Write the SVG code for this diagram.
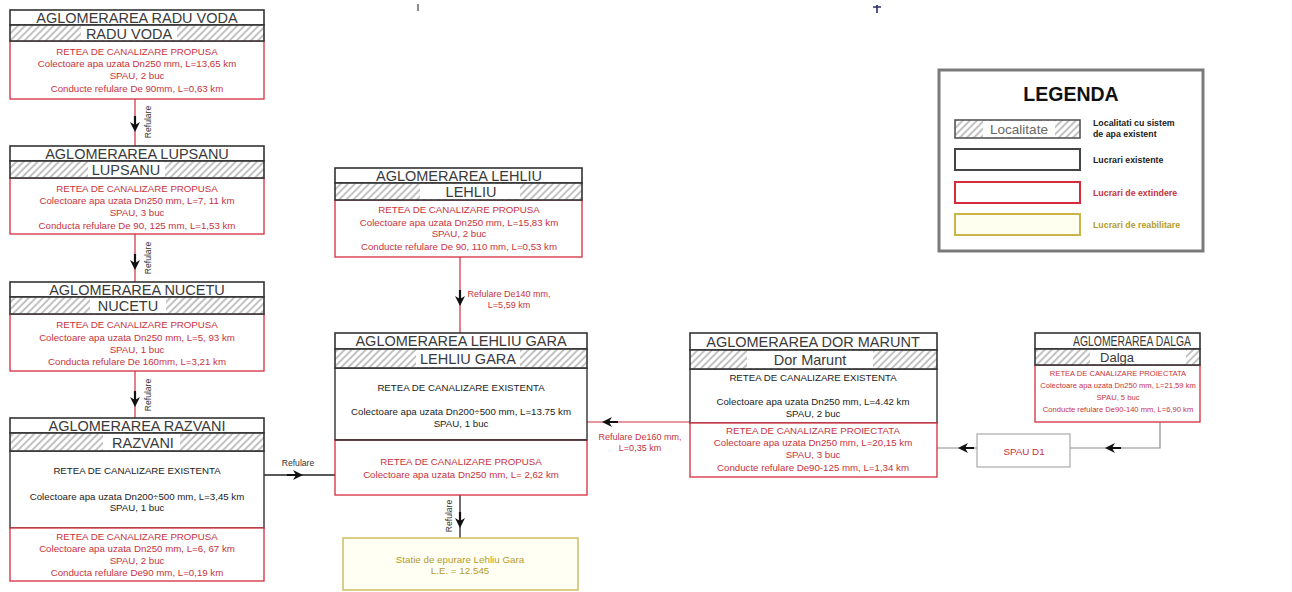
<svg xmlns="http://www.w3.org/2000/svg" width="1292" height="592" viewBox="0 0 1292 592">
  <defs>
    <pattern id="hatch" width="5" height="5" patternUnits="userSpaceOnUse" patternTransform="rotate(45)">
      <rect width="5" height="5" fill="#fff"/>
      <line x1="1" y1="0" x2="1" y2="5" stroke="#a8a8a8" stroke-width="1.4"/>
    </pattern>
    <!-- arrowhead with short shaft, pointing along +x, tip at origin -->
    <path id="ah" d="M0,0 L-10,-5 L-7,0 L-10,5 Z M-7,-1.1 L-16,-1.1 L-16,1.1 L-7,1.1 Z" fill="#111"/>
    <style>
      text { font-family: "Liberation Sans", Arial, sans-serif; text-anchor: middle; }
      .title { font-size: 14.5px; fill: #3a3a3a; }
      .body { font-size: 9.7px; }
      .small { font-size: 7.6px; }
      .red { fill: #c8323c; }
      .blk { fill: #222; }
      .gold { fill: #b49b2c; }
      .row { fill: #fff; stroke: #333; stroke-width: 1.6; }
      .hat { fill: url(#hatch); stroke: #333; stroke-width: 1.6; }
      .bg { fill: #fff; }
      .redbox { fill: #fff; stroke: #d42c3c; stroke-width: 1.3; }
      .exist { fill: #fff; stroke: #333; stroke-width: 1.4; }
      .ln-red { fill: none; stroke: #cc3040; stroke-width: 1.2; }
      .ln-blk { fill: none; stroke: #222; stroke-width: 1.3; }
      .ln-gry { fill: none; stroke: #8a8a8a; stroke-width: 1.2; }
      .lbl { font-size: 8.6px; fill: #333; }
      .lbl-red { font-size: 9px; fill: #c8323c; }
      .leg { font-size: 8.8px; font-weight: bold; text-anchor: start; }
    </style>
  </defs>

  <rect width="1292" height="592" fill="#fff"/>

  <!-- small survey ticks along the top edge -->
  <path d="M418,4 V11" stroke="#666" stroke-width="1.5"/>
  <path d="M873,7 H881 M877,5 V13" stroke="#2b2f6e" stroke-width="1.6"/>

  <!-- connectors -->
  <g id="connectors">
    <path class="ln-red" d="M135,99 V146"/>
    <path class="ln-red" d="M135,234 V282"/>
    <path class="ln-red" d="M135,371 V418"/>
    <path class="ln-blk" d="M264,475 H335"/>
    <path class="ln-red" d="M460,257 V333"/>
    <path class="ln-blk" d="M460,495 V538"/>
    <path class="ln-red" d="M587,422 H690"/>
    <path class="ln-gry" d="M1160,422 V448 H1070"/>
    <path class="ln-gry" d="M977,448 H937"/>

    <use href="#ah" transform="translate(135,132) rotate(90)"/>
    <use href="#ah" transform="translate(135,270) rotate(90)"/>
    <use href="#ah" transform="translate(135,407) rotate(90)"/>
    <use href="#ah" transform="translate(303,475)"/>
    <use href="#ah" transform="translate(460,306) rotate(90)"/>
    <use href="#ah" transform="translate(460,528) rotate(90)"/>
    <use href="#ah" transform="translate(602,422) rotate(180)"/>
    <use href="#ah" transform="translate(1105,448) rotate(180)"/>
    <use href="#ah" transform="translate(958,448) rotate(180)"/>

    <text class="lbl" transform="translate(151,122) rotate(-90)">Refulare</text>
    <text class="lbl" transform="translate(151,258) rotate(-90)">Refulare</text>
    <text class="lbl" transform="translate(151,395) rotate(-90)">Refulare</text>
    <text class="lbl" transform="translate(452,516) rotate(-90)">Refulare</text>
    <text class="lbl" x="298" y="466">Refulare</text>
    <text class="lbl-red" x="509" y="297">Refulare De140 mm,</text>
    <text class="lbl-red" x="509" y="308">L=5,59 km</text>
    <text class="lbl-red" x="640" y="440">Refulare De160 mm,</text>
    <text class="lbl-red" x="640" y="451">L=0,35 km</text>
  </g>

  <!-- Radu Voda -->
  <g id="node-radu-voda">
    <rect class="redbox" x="10" y="41" width="254" height="58"/>
    <rect class="row" x="10" y="10" width="254" height="15"/>
    <rect class="hat" x="10" y="25" width="254" height="16"/>
    <rect class="bg" x="81" y="26" width="96" height="14"/>
    <text class="title" x="137" y="22.5">AGLOMERAREA RADU VODA</text>
    <text class="title" x="129" y="38.5">RADU VODA</text>
    <text class="body red" x="137" y="55">RETEA DE CANALIZARE PROPUSA</text>
    <text class="body red" x="137" y="67">Colectoare apa uzata Dn250 mm, L=13,65 km</text>
    <text class="body red" x="137" y="79">SPAU, 2 buc</text>
    <text class="body red" x="137" y="91.5">Conducte refulare De 90mm, L=0,63 km</text>
  </g>

  <!-- Lupsanu -->
  <g id="node-lupsanu">
    <rect class="redbox" x="10" y="178" width="254" height="56"/>
    <rect class="row" x="10" y="146" width="254" height="15"/>
    <rect class="hat" x="10" y="161" width="254" height="17"/>
    <rect class="bg" x="88" y="162" width="77" height="15"/>
    <text class="title" x="137" y="158.5">AGLOMERAREA LUPSANU</text>
    <text class="title" x="126" y="175">LUPSANU</text>
    <text class="body red" x="137" y="191.5">RETEA DE CANALIZARE PROPUSA</text>
    <text class="body red" x="137" y="204">Colectoare apa uzata Dn250 mm, L=7, 11 km</text>
    <text class="body red" x="137" y="216">SPAU, 3 buc</text>
    <text class="body red" x="137" y="228.5">Conducta refulare De 90, 125 mm, L=1,53 km</text>
  </g>

  <!-- Nucetu -->
  <g id="node-nucetu">
    <rect class="redbox" x="10" y="314" width="254" height="57"/>
    <rect class="row" x="10" y="282" width="254" height="15"/>
    <rect class="hat" x="10" y="297" width="254" height="17"/>
    <rect class="bg" x="90" y="298" width="76" height="15"/>
    <text class="title" x="137" y="294.5">AGLOMERAREA NUCETU</text>
    <text class="title" x="128" y="311">NUCETU</text>
    <text class="body red" x="137" y="328">RETEA DE CANALIZARE PROPUSA</text>
    <text class="body red" x="137" y="340.5">Colectoare apa uzata Dn250 mm, L=5, 93 km</text>
    <text class="body red" x="137" y="352.5">SPAU, 1 buc</text>
    <text class="body red" x="137" y="365">Conducta refulare De 160mm, L=3,21 km</text>
  </g>

  <!-- Razvani -->
  <g id="node-razvani">
    <rect class="exist" x="10" y="451" width="254" height="77"/>
    <rect class="redbox" x="10" y="528" width="254" height="53"/>
    <rect class="row" x="10" y="418" width="254" height="15"/>
    <rect class="hat" x="10" y="433" width="254" height="18"/>
    <rect class="bg" x="103" y="434" width="77" height="16"/>
    <text class="title" x="137" y="430.5">AGLOMERAREA RAZVANI</text>
    <text class="title" x="143" y="447.5">RAZVANI</text>
    <text class="body blk" x="137" y="474">RETEA DE CANALIZARE EXISTENTA</text>
    <text class="body blk" x="137" y="500">Colectoare apa uzata Dn200÷500 mm, L=3,45 km</text>
    <text class="body blk" x="137" y="511">SPAU, 1 buc</text>
    <text class="body red" x="137" y="540">RETEA DE CANALIZARE PROPUSA</text>
    <text class="body red" x="137" y="552">Colectoare apa uzata Dn250 mm, L=6, 67 km</text>
    <text class="body red" x="137" y="564">SPAU, 2 buc</text>
    <text class="body red" x="137" y="576">Conducta refulare De90 mm, L=0,19 km</text>
  </g>

  <!-- Lehliu -->
  <g id="node-lehliu">
    <rect class="redbox" x="335" y="200" width="247" height="57"/>
    <rect class="row" x="335" y="168" width="247" height="15"/>
    <rect class="hat" x="335" y="183" width="247" height="17"/>
    <rect class="bg" x="420" y="184" width="100" height="15"/>
    <text class="title" x="459" y="180.5">AGLOMERAREA LEHLIU</text>
    <text class="title" x="471" y="197">LEHLIU</text>
    <text class="body red" x="459" y="213">RETEA DE CANALIZARE PROPUSA</text>
    <text class="body red" x="459" y="225.5">Colectoare apa uzata Dn250 mm, L=15,83 km</text>
    <text class="body red" x="459" y="237">SPAU, 2 buc</text>
    <text class="body red" x="459" y="249.5">Conducte refulare De 90, 110 mm, L=0,53 km</text>
  </g>

  <!-- Lehliu Gara -->
  <g id="node-lehliu-gara">
    <rect class="exist" x="335" y="368" width="252" height="72"/>
    <rect class="redbox" x="335" y="440" width="252" height="55"/>
    <line x1="335" y1="440" x2="587" y2="440" stroke="#333" stroke-width="1.4"/>
    <rect class="row" x="335" y="333" width="252" height="16"/>
    <rect class="hat" x="335" y="349" width="252" height="19"/>
    <rect class="bg" x="416" y="350" width="104" height="17"/>
    <text class="title" x="461" y="346">AGLOMERAREA LEHLIU GARA</text>
    <text class="title" x="468" y="363.5">LEHLIU GARA</text>
    <text class="body blk" x="461" y="390.5">RETEA DE CANALIZARE EXISTENTA</text>
    <text class="body blk" x="461" y="414.5">Colectoare apa uzata Dn200÷500 mm, L=13.75 km</text>
    <text class="body blk" x="461" y="427">SPAU, 1 buc</text>
    <text class="body red" x="461" y="465">RETEA DE CANALIZARE PROPUSA</text>
    <text class="body red" x="461" y="477.5">Colectoare apa uzata Dn250 mm, L= 2,62 km</text>
  </g>

  <!-- Statie de epurare -->
  <g id="node-statie">
    <rect x="343" y="538" width="235" height="52" fill="#fffff4" stroke="#c9b44a" stroke-width="1.3"/>
    <text class="gold" x="460" y="563" style="font-size:9.8px">Statie de epurare Lehliu Gara</text>
    <text class="gold" x="460" y="574" style="font-size:9.8px">L.E. = 12.545</text>
  </g>

  <!-- Dor Marunt -->
  <g id="node-dor-marunt">
    <rect class="exist" x="690" y="369" width="247" height="54"/>
    <rect class="redbox" x="690" y="423" width="247" height="54"/>
    <rect class="row" x="690" y="333" width="247" height="17"/>
    <rect class="hat" x="690" y="350" width="247" height="19"/>
    <rect class="bg" x="747" y="351" width="126" height="17"/>
    <text class="title" x="813" y="346.5">AGLOMERAREA DOR MARUNT</text>
    <text class="title" x="810" y="364.5">Dor Marunt</text>
    <text class="body blk" x="813" y="380.5">RETEA DE CANALIZARE EXISTENTA</text>
    <text class="body blk" x="813" y="405">Colectoare apa uzata Dn250 mm, L=4.42 km</text>
    <text class="body blk" x="813" y="417">SPAU, 2 buc</text>
    <text class="body red" x="813" y="433.5">RETEA DE CANALIZARE PROIECTATA</text>
    <text class="body red" x="813" y="445.5">Colectoare apa uzata Dn250 mm, L=20,15 km</text>
    <text class="body red" x="813" y="458">SPAU, 3 buc</text>
    <text class="body red" x="813" y="470.5">Conducte refulare De90-125 mm, L=1,34 km</text>
  </g>

  <!-- Dalga -->
  <g id="node-dalga">
    <rect class="redbox" x="1035" y="365" width="165" height="57"/>
    <rect class="row" x="1035" y="333" width="165" height="16"/>
    <rect class="hat" x="1035" y="349" width="165" height="16"/>
    <rect class="bg" x="1090" y="350" width="96" height="14"/>
    <text class="title" x="1132" y="346" textLength="118" lengthAdjust="spacingAndGlyphs">AGLOMERAREA DALGA</text>
    <text class="title" x="1117" y="362" style="font-size:13px">Dalga</text>
    <text class="small red" x="1118" y="376">RETEA DE CANALIZARE PROIECTATA</text>
    <text class="small red" x="1118" y="388">Colectoare apa uzata Dn250 mm, L=21,59 km</text>
    <text class="small red" x="1118" y="400">SPAU, 5 buc</text>
    <text class="small red" x="1118" y="412">Conducte refulare De90-140 mm, L=6,90 km</text>
  </g>

  <!-- SPAU D1 -->
  <g id="node-spau-d1">
    <rect x="977" y="434" width="93" height="33" fill="#fff" stroke="#aaa" stroke-width="1.2"/>
    <text class="red" x="1024" y="454.5" style="font-size:9.8px">SPAU D1</text>
  </g>

  <!-- Legend -->
  <g id="legend">
    <rect x="939" y="70" width="264" height="181" fill="#fff" stroke="#7a7a7a" stroke-width="3"/>
    <text x="1071" y="101" style="font-size:19.5px;font-weight:bold;fill:#111">LEGENDA</text>

    <rect class="hat" x="955" y="120" width="125" height="18" style="stroke:#555"/>
    <rect class="bg" x="983" y="121" width="72" height="16"/>
    <text x="1019" y="134" style="font-size:13.5px;fill:#666">Localitate</text>
    <text class="leg blk" x="1093" y="126">Localitati cu sistem</text>
    <text class="leg blk" x="1093" y="137">de apa existent</text>

    <rect x="955" y="149" width="125" height="21" fill="#fff" stroke="#444" stroke-width="2"/>
    <text class="leg blk" x="1093" y="163">Lucrari existente</text>

    <rect x="955" y="182" width="125" height="21" fill="#fff" stroke="#d42c3c" stroke-width="2"/>
    <text class="leg red" x="1093" y="196">Lucrari de extindere</text>

    <rect x="955" y="214" width="125" height="21" fill="#fffff0" stroke="#c9b44a" stroke-width="2"/>
    <text class="leg gold" x="1093" y="228">Lucrari de reabilitare</text>
  </g>
</svg>
